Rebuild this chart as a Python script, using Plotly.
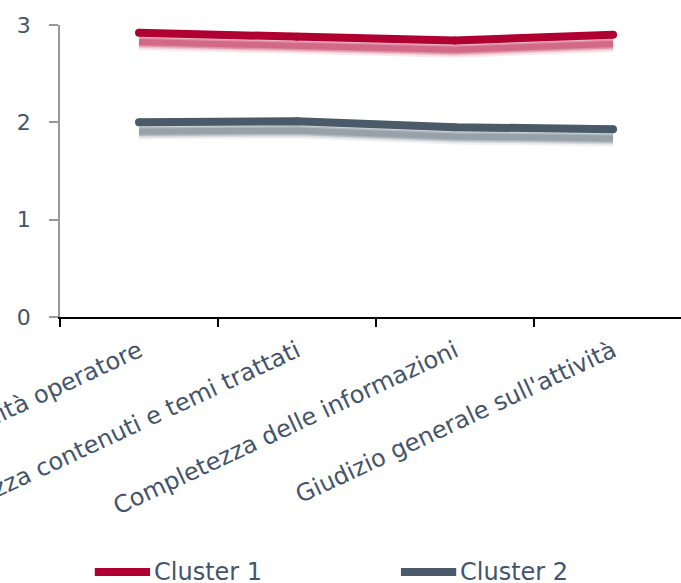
import plotly.graph_objects as go

# Survey items (x categories) and average scores per cluster
categories = [
    "Professionalità operatore",
    "Chiarezza contenuti e temi trattati",
    "Completezza delle informazioni",
    "Giudizio generale sull'attività",
]
cluster_1 = [2.92, 2.88, 2.84, 2.90]
cluster_2 = [2.00, 2.01, 1.95, 1.93]
series_names = ["Cluster 1", "Cluster 2"]
y_ticks = [0, 1, 2, 3]

styles = [
    dict(color="#B00032", shade="#C8466A", legend_x=0.056),
    dict(color="#4A5A68", shade="#7E8B96", legend_x=0.549),
]

TEXT = "#44546A"
FONT = "DejaVu Sans"
SHADOW_DROP = 0.095  # soft drop shadow below each line, in axis units
LINE_W = 8

fig = go.Figure()

# blurred drop shadows (several translucent strokes stacked)
for vals, st in zip([cluster_1, cluster_2], styles):
    shifted = [v - SHADOW_DROP for v in vals]
    for w, op in [(16, 0.12), (12, 0.22), (9, 0.4), (6, 0.5)]:
        fig.add_trace(go.Scatter(
            x=categories, y=shifted, mode="lines",
            line=dict(color=st["shade"], width=w), opacity=op,
            showlegend=False, hoverinfo="skip",
        ))

# main lines (markers give rounded ends)
for name, vals, st in zip(series_names, [cluster_1, cluster_2], styles):
    fig.add_trace(go.Scatter(
        x=categories, y=vals, name=name, mode="lines+markers",
        line=dict(color=st["color"], width=LINE_W),
        marker=dict(color=st["color"], size=LINE_W, line=dict(width=0)),
        showlegend=False,
    ))

# legend row below the axis: long line swatch followed by the series name
LEG_Y = -0.873
SWATCH = 0.089
for name, st in zip(series_names, styles):
    x0 = st["legend_x"]
    fig.add_shape(type="line", xref="paper", yref="paper",
                  x0=x0, x1=x0 + SWATCH, y0=LEG_Y, y1=LEG_Y,
                  line=dict(color=st["color"], width=LINE_W))
    fig.add_annotation(xref="paper", yref="paper", x=x0 + SWATCH + 0.003,
                       y=LEG_Y, xanchor="left", yanchor="middle",
                       text=name, showarrow=False,
                       font=dict(size=24, color=TEXT, family=FONT))

fig.update_layout(
    width=681, height=583,
    margin=dict(l=60, r=0, t=25, b=266, autoexpand=False),
    paper_bgcolor="white", plot_bgcolor="white",
    font=dict(family=FONT, color=TEXT),
    showlegend=False,
    xaxis=dict(
        type="category", range=[-0.5, 3.43], tickson="boundaries",
        showline=True, linecolor="black", linewidth=1.5,
        ticks="outside", ticklen=8, tickcolor="black", tickwidth=1.5,
        tickangle=-25, tickfont=dict(size=24, color=TEXT, family=FONT),
        ticklabelstandoff=9,
        showgrid=False, zeroline=False, automargin=False,
    ),
    yaxis=dict(
        range=[0, 3], tickvals=y_ticks,
        showline=True, linecolor="#999999", linewidth=1.5,
        ticks="outside", ticklen=9, tickcolor="#999999", tickwidth=1.5,
        tickfont=dict(size=22, color=TEXT, family=FONT),
        ticklabelstandoff=14,
        showgrid=False, zeroline=False, automargin=False,
    ),
)

fig.write_html("out.html")
